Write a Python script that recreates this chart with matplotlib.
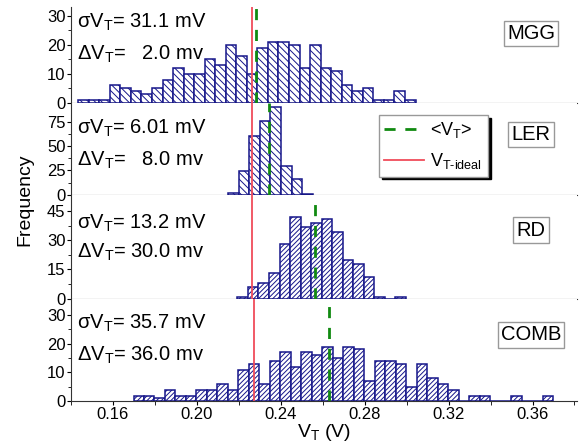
import numpy as np
import matplotlib
matplotlib.use('Agg')
import matplotlib.pyplot as plt
from matplotlib.lines import Line2D

plt.rcParams['font.family'] = ['Liberation Sans', 'DejaVu Sans']
plt.rcParams['mathtext.fontset'] = 'custom'
plt.rcParams['mathtext.rm'] = 'Liberation Sans'
plt.rcParams['mathtext.it'] = 'Liberation Sans:italic'
plt.rcParams['hatch.linewidth'] = 0.7

# histogram counts (bin width 5 mV)
bin_width = 0.005
mgg_start = 0.1446
mgg_counts = [1, 1, 1, 6, 5, 4, 3, 5, 8, 12, 10, 10, 15, 13, 20, 16, 10, 19, 21, 21,
              20, 12, 20, 12, 11, 6, 4, 5, 1, 1, 4, 1]
ler_start = 0.2158
ler_counts = [2, 24, 60, 76, 90, 30, 16, 1]
rd_start = 0.2201
rd_counts = [1, 6, 8, 13, 28, 42, 37, 39, 41, 34, 20, 18, 11, 1, 0, 1]
comb_start = 0.1698
comb_counts = [2, 2, 1, 4, 2, 2, 4, 4, 6, 4, 11, 13, 6, 14, 17, 12, 17, 16, 19, 15,
               19, 18, 7, 14, 14, 13, 5, 13, 8, 6, 4, 0, 2, 2, 0, 0, 2, 0, 0, 2]

names = ['MGG', 'LER', 'RD', 'COMB']
sigma_vt = ['31.1', '6.01', '13.2', '35.7']
delta_vt = ['  2.0', '  8.0', '30.0', '36.0']
vt_ideal = 0.227
vt_mean = [0.229, 0.235, 0.257, 0.263]
y_ticks = [[0, 10, 20, 30], [0, 25, 50, 75], [0, 15, 30, 45], [0, 10, 20, 30]]
x_ticks = [0.16, 0.20, 0.24, 0.28, 0.32, 0.36]

W, H = 585, 445
fig = plt.figure(figsize=(W / 100, H / 100), dpi=100)

# panel extents in pixels (top, bottom) and y-limits
panels = [(7, 102.7, 33.1), (102.7, 194.7, 94.7), (194.7, 298.7, 53.4), (298.7, 401.3, 35.6)]
starts = [mgg_start, ler_start, rd_start, comb_start]
counts = [mgg_counts, ler_counts, rd_counts, comb_counts]
hatches = ['\\\\\\\\\\', '\\\\\\\\\\', '///////', '///////']
label_y = [33.5, 134.5, 230, 335]
text_base = [(27.3, 60), (133.3, 165.7), (228.3, 257.7), (328.3, 360.7)]
navy = '#16168a'

x0, x1 = 71, 577
axes = []
for i, (top, bot, ymax) in enumerate(panels):
    ax = fig.add_axes([x0 / W, 1 - bot / H, (x1 - x0) / W, (bot - top) / H])
    axes.append(ax)
    c = np.array(counts[i])
    edges = starts[i] + bin_width * np.arange(len(c))
    ax.bar(edges, c, width=bin_width, align='edge', color='white',
           edgecolor=navy, linewidth=1.1, hatch=hatches[i], zorder=2)
    ax.axvline(vt_ideal, color='#f04c5a', lw=1.3, zorder=3)
    ax.axvline(vt_mean[i], color='#118a11', lw=2, ls=(0, (4, 3.5)), zorder=4)
    ax.set_xlim(0.1412, 0.3812)
    ax.set_ylim(0, ymax)
    yt = y_ticks[i]
    ax.set_yticks(yt)
    ax.set_yticks([(a + b) / 2 for a, b in zip(yt[:-1], yt[1:])], minor=True)
    ax.tick_params(axis='y', which='major', direction='out', length=3, labelsize=12, pad=1)
    ax.tick_params(axis='y', which='minor', direction='out', length=2)
    for s in ['top', 'right']:
        ax.spines[s].set_visible(False)
    ax.spines['left'].set_color('#333333')
    ax.spines['bottom'].set_color('#333333')
    if i < 3:
        ax.tick_params(axis='x', which='both', length=0, labelbottom=False)
    else:
        ax.set_xticks(x_ticks)
        ax.set_xticklabels(['%.2f' % v for v in x_ticks])
        ax.set_xticks([v - 0.02 for v in x_ticks] + [0.38], minor=True)
        ax.tick_params(axis='x', which='major', direction='out', length=3, labelsize=12, pad=1)
        ax.tick_params(axis='x', which='minor', direction='out', length=3)
        ax.set_xlabel(r'V$_\mathregular{T}$ (V)', fontsize=14, labelpad=0)

    fig.text(531 / W, 1 - label_y[i] / H, names[i], fontsize=14.5, ha='center', va='center',
             bbox=dict(boxstyle='square,pad=0.15', fc='white', ec='#999999', lw=1))
    fig.text(76.7 / W, 1 - text_base[i][0] / H,
             r'$\mathregular{\sigma}$V$_\mathregular{T}$= ' + sigma_vt[i] + ' mV',
             fontsize=14.5, va='baseline', ha='left')
    fig.text(76.7 / W, 1 - text_base[i][1] / H,
             r'$\mathregular{\Delta}$V$_\mathregular{T}$= ' + delta_vt[i] + ' mv',
             fontsize=14.5, va='baseline', ha='left')

fig.text(25 / W, 1 - 200 / H, 'Frequency', rotation=90, fontsize=14, ha='center', va='center')

handles = [Line2D([], [], color='#118a11', lw=2, ls=(0, (4, 3.5))),
           Line2D([], [], color='#f04c5a', lw=1.3)]
labels = [r'<V$_\mathregular{T}$>', r'V$_\mathregular{T\text{-}ideal}$']
leg = axes[1].legend(handles, labels, loc='upper left', bbox_to_anchor=(379 / W, 1 - 115 / H),
                     bbox_transform=fig.transFigure, fontsize=13, handlelength=2.2,
                     borderaxespad=0, fancybox=False, framealpha=1, edgecolor='#999999',
                     shadow={'color': 'black', 'alpha': 1}, labelspacing=0.6,
                     borderpad=0.3, handletextpad=0.35)
leg.get_frame().set_linewidth(1)

fig.savefig('out.png', dpi=100)
